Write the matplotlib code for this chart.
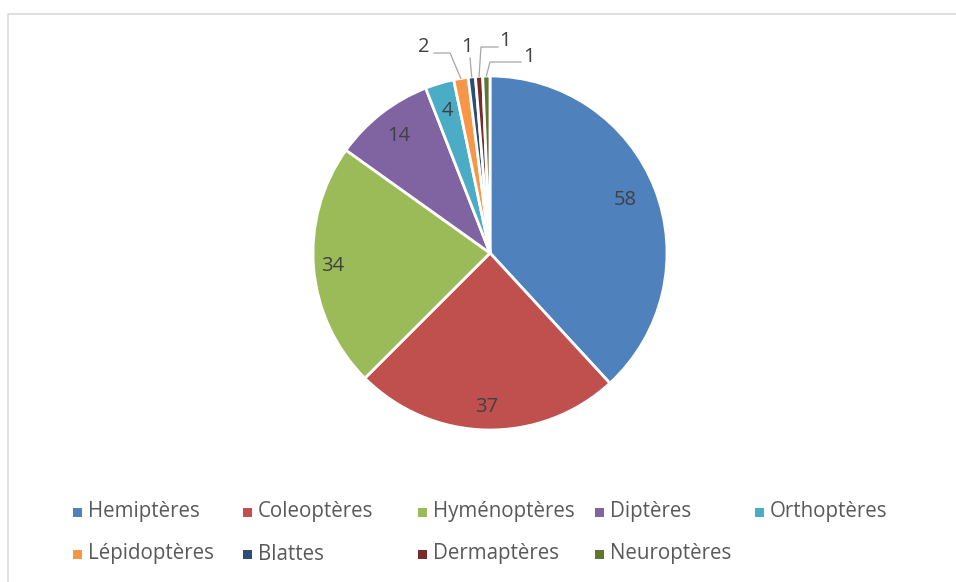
import matplotlib
matplotlib.use("Agg")
import matplotlib.pyplot as plt
from matplotlib.patches import Rectangle
import numpy as np

plt.rcParams['font.family'] = ['Open Sans', 'DejaVu Sans']

# Insect orders and counts
orders = ["Hemiptères", "Coleoptères", "Hyménoptères", "Diptères", "Orthoptères",
          "Lépidoptères", "Blattes", "Dermaptères", "Neuroptères"]
counts = [58, 37, 34, 14, 4, 2, 1, 1, 1]
colors = ["#4F81BD", "#C0504D", "#9BBB59", "#8064A2", "#4BACC6",
          "#F79646", "#2C4D75", "#772C2A", "#5F7530"]

W, H = 956, 582
fig = plt.figure(figsize=(W / 100, H / 100), dpi=100)
ax = fig.add_axes([0, 0, 1, 1])

cx, cy, r = 490, H - 253, 177
wedges, _ = ax.pie(counts, colors=colors, startangle=90, counterclock=False,
                   center=(cx, cy), radius=r,
                   wedgeprops=dict(edgecolor="white", linewidth=2))
ax.set_xlim(0, W)
ax.set_ylim(0, H)
ax.set_aspect("equal")
ax.axis("off")

# Chart border
ax.plot([8, 8, W + 5], [-5, H - 14, H - 14], color="#d9d9d9", lw=1.2, clip_on=False)

label_color = "#404040"
fs = 14.5
# Inside labels for the large slices (radial position as fraction of radius)
inside_frac = [0.82, 0.87, 0.89, 0.84, 0.84]
for w, v, f in zip(wedges[:5], counts[:5], inside_frac):
    ang = np.deg2rad((w.theta1 + w.theta2) / 2)
    x = cx + f * r * np.cos(ang)
    y = cy + f * r * np.sin(ang)
    ax.text(x, y, str(v), ha="center", va="center", fontsize=fs, color=label_color)

# Outside labels with leader lines for the thin slices
outside = {5: ((424, H - 47), [(450, H - 53), (434, H - 53)]),
           6: ((467, H - 47), [(470, H - 58)]),
           7: ((505, H - 41), [(481, H - 47), (498, H - 47)]),
           8: ((529, H - 57), [(490, H - 62), (521, H - 62)])}
for i, (lab_xy, path) in outside.items():
    w = wedges[i]
    ang = np.deg2rad((w.theta1 + w.theta2) / 2)
    sx, sy = cx + r * np.cos(ang), cy + r * np.sin(ang)
    xs = [sx] + [p[0] for p in path]
    ys = [sy] + [p[1] for p in path]
    ax.plot(xs, ys, color="#a6a6a6", lw=0.9)
    ax.text(lab_xy[0], lab_xy[1], str(counts[i]), ha="center", va="center",
            fontsize=fs, color=label_color)

# Legend
col_x = [73, 243, 418, 595, 755]
row_y = [H - 512, H - 554]
for k, (name, c) in enumerate(zip(orders, colors)):
    row, col = divmod(k, 5)
    x, y = col_x[col], row_y[row]
    ax.add_patch(Rectangle((x, y - 4.5), 9, 9, color=c, lw=0))
    ax.text(x + 15, y, name, ha="left", va="center", fontsize=14.8, color="#595959")

fig.savefig("out.png", dpi=100, facecolor="white")
